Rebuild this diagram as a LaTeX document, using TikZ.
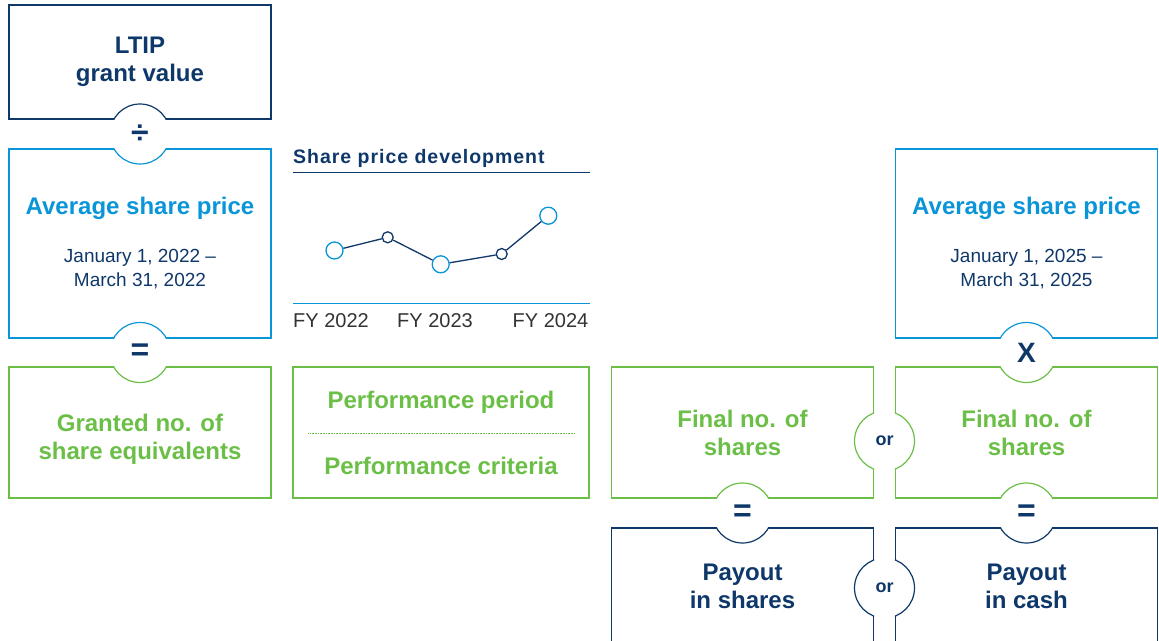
\documentclass[tikz,border=0pt]{standalone}
\usepackage{fontspec}
\setmainfont{Liberation Sans}
\newfontfamily\trackfont[LetterSpace=5]{Liberation Sans}
\usepackage{tikz}
\usetikzlibrary{calc}
\definecolor{navy}{HTML}{0F386A}
\definecolor{sky}{HTML}{0A95D8}
\definecolor{leaf}{HTML}{6BBF47}
\definecolor{axis}{HTML}{333333}
\newcommand\datefont{\mdseries\fontsize{19}{24}\selectfont}
\tikzset{
  box/.style={draw=#1, text=#1, line width=1.2pt, minimum width=262pt, align=center, inner sep=0pt, font=\bfseries\fontsize{24}{28}\selectfont},
  avgbox/.style={box=sky, text=navy, minimum height=189pt, font=\bfseries\fontsize{24}{24}\selectfont},
  op/.style={text=navy, inner sep=0pt, font=\bfseries\fontsize{32}{32}\selectfont},
  word/.style={op, font=\bfseries\fontsize{18}{18}\selectfont},
  bigdot/.style={circle, draw=sky, fill=white, line width=1.3pt, minimum size=17pt, inner sep=0pt},
  smalldot/.style={circle, draw=navy, fill=white, line width=1.3pt, minimum size=11pt, inner sep=0pt},
  fy/.style={text=axis, inner sep=0pt, font=\fontsize{20}{24}\selectfont},
}

\begin{document}
\begin{tikzpicture}[x=1pt, y=1pt]
  \clip (0,0) rectangle (1159,-640);
  % left column
  \node[box=navy, minimum height=114pt] (ltip) at (140,-62) {LTIP\\grant value};
  \node[avgbox] (avgl) at (140,-243.5) {\textcolor{sky}{Average share price}\\[24pt]{\datefont January 1, 2022 –}\\{\datefont March 31, 2022}};
  \node[box=leaf, minimum height=131pt] (granted) at (140,-432.5) {\rule{0pt}{31pt}Granted no. of\\share equivalents};
  % chart
  \node[anchor=base west, text=navy, inner sep=0pt, font=\trackfont\bfseries\fontsize{19.5}{22}\selectfont] (title) at (293,-163) {Share price development};
  \draw[navy, line width=1.2pt] (293,-172.3) -- (590,-172.3);
  \draw[sky, line width=1.2pt] (293,-303.3) -- (590,-303.3);
  \node[bigdot] (p1) at (334.5,-250.5) {};
  \node[smalldot] (p2) at (387.7,-237.3) {};
  \node[bigdot] (p3) at (440.7,-264.3) {};
  \node[smalldot] (p4) at (501.7,-254) {};
  \node[bigdot] (p5) at (548.3,-215.7) {};
  \draw[navy, line width=1.3pt] (p1) -- (p2) -- (p3) -- (p4) -- (p5);
  \node[fy] (fy22) at (331,-320.5) {FY 2022};
  \node[fy] (fy23) at (435,-320.5) {FY 2023};
  \node[fy] (fy24) at (550.5,-320.5) {FY 2024};
  \node[box=leaf, minimum width=296pt, minimum height=131pt] (perf) at (441,-432.5) {Performance period\\[38pt]Performance criteria};
  \draw[leaf, line width=0.9pt, dash pattern=on 0.8pt off 0.8pt] ($(perf.west)+(16,-0.5)$) -- ($(perf.east)+(-14,-0.5)$);
  % right columns
  \node[avgbox] (avgr) at (1026.5,-243.5) {\textcolor{sky}{Average share price}\\[24pt]{\datefont January 1, 2025 –}\\{\datefont March 31, 2025}};
  \node[box=leaf, minimum height=131pt] (finall) at (742.5,-432.5) {Final no. of\\shares};
  \node[box=leaf, minimum height=131pt] (finalr) at (1026.5,-432.5) {Final no. of\\shares};
  \node[box=navy, minimum height=116pt] (payl) at (742.5,-586) {Payout\\in shares};
  \node[box=navy, minimum height=116pt] (payr) at (1026.5,-586) {Payout\\in cash};
  % notches
  \coordinate (n1) at (140,-134);
  \coordinate (n2) at (140,-352.5);
  \coordinate (n3) at (1026.5,-352.5);
  \coordinate (n4) at (884.5,-441);
  \coordinate (n5) at (742.5,-513);
  \coordinate (n6) at (1026.5,-513);
  \coordinate (n7) at (884.5,-588);
  \foreach \n/\a/\ca/\b/\cb in {n1/ltip/navy/avgl/sky, n2/avgl/sky/granted/leaf, n3/avgr/sky/finalr/leaf, n4/finall/leaf/finalr/leaf, n5/finall/leaf/payl/navy, n6/finalr/leaf/payr/navy, n7/payl/navy/payr/navy}{
    \fill[white] (\n) circle (30pt);
    \begin{scope}
      \clip (\a.south west) rectangle (\a.north east);
      \draw[\ca, line width=1.2pt] (\n) circle (30pt);
    \end{scope}
    \begin{scope}
      \clip (\b.south west) rectangle (\b.north east);
      \draw[\cb, line width=1.2pt] (\n) circle (30pt);
    \end{scope}
  }
  \node[op] (divide) at (n1) {÷};
  \node[op] (equals1) at (n2) {=};
  \node[op, font=\bfseries\fontsize{28}{28}\selectfont] (times) at (n3) {X};
  \node[word] (or1) at (n4) {or};
  \node[op] (equals2) at (n5) {=};
  \node[op] (equals3) at (n6) {=};
  \node[word] (or2) at (n7) {or};
\end{tikzpicture}
\end{document}
